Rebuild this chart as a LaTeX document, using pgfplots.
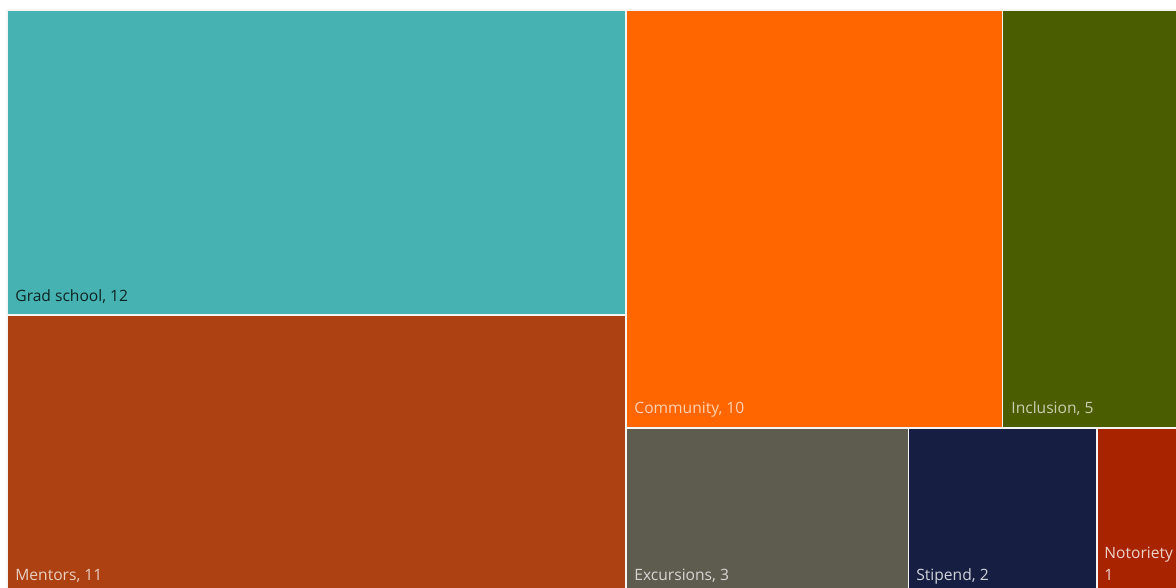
\documentclass[border=0pt]{standalone}
\usepackage{fontspec}
\setmainfont{Open Sans}
\usepackage{pgfplots}
\pgfplotsset{compat=1.18}
\definecolor{cGrad}{HTML}{47B2B2}
\definecolor{cMent}{HTML}{AD4111}
\definecolor{cComm}{HTML}{FF6600}
\definecolor{cIncl}{HTML}{4A5D00}
\definecolor{cExcu}{HTML}{5E5B4F}
\definecolor{cStip}{HTML}{161F42}
\definecolor{cNoto}{HTML}{A82300}
\tikzset{lbl/.style={font=\fontsize{7.8}{9}\selectfont, anchor=base west, inner sep=0pt}}
\begin{document}
\begin{tikzpicture}
% Values: Grad school 12, Mentors 11, Community 10, Inclusion 5, Excursions 3, Stipend 2, Notoriety 1 (total 44)
% Treemap area (pixel units): x 7..1191, y 10..595, clipped to 1176x588
\begin{axis}[width=588pt,height=294pt,scale only axis,
  xmin=0,xmax=1176,ymin=0,ymax=588,y dir=reverse,
  hide axis, clip=true,
  every axis plot/.append style={draw=white!92!gray, line width=0.8pt}]
\addplot[fill=cGrad] coordinates {(7,10) (625.9,10) (625.9,315.2) (7,315.2) (7,10)};
\addplot[fill=cMent] coordinates {(7,315.2) (625.9,315.2) (625.9,595) (7,595) (7,315.2)};
\addplot[fill=cComm] coordinates {(625.9,10) (1002.6,10) (1002.6,427.9) (625.9,427.9) (625.9,10)};
\addplot[fill=cIncl] coordinates {(1002.6,10) (1191,10) (1191,427.9) (1002.6,427.9) (1002.6,10)};
\addplot[fill=cExcu] coordinates {(625.9,427.9) (908.5,427.9) (908.5,595) (625.9,595) (625.9,427.9)};
\addplot[fill=cStip] coordinates {(908.5,427.9) (1096.9,427.9) (1096.9,595) (908.5,595) (908.5,427.9)};
\addplot[fill=cNoto] coordinates {(1096.9,427.9) (1191,427.9) (1191,595) (1096.9,595) (1096.9,427.9)};
\node[lbl, text=black!80!cGrad] at (axis cs:15,301) {Grad school, 12};
\node[lbl, text=white, text opacity=0.75] at (axis cs:15,580) {Mentors, 11};
\node[lbl, text=white, text opacity=0.7] at (axis cs:634,413) {Community, 10};
\node[lbl, text=white, text opacity=0.7] at (axis cs:1011,413) {Inclusion, 5};
\node[lbl, text=white, text opacity=0.75] at (axis cs:634,580) {Excursions, 3};
\node[lbl, text=white, text opacity=0.8] at (axis cs:916,580) {Stipend, 2};
\node[lbl, text=white, text opacity=0.8] at (axis cs:1104,558) {Notoriety};
\node[lbl, text=white, text opacity=0.8] at (axis cs:1104,580) {1};
\end{axis}
\pgfresetboundingbox
\useasboundingbox (current axis.south west) rectangle (current axis.north east);
\end{tikzpicture}
\end{document}
